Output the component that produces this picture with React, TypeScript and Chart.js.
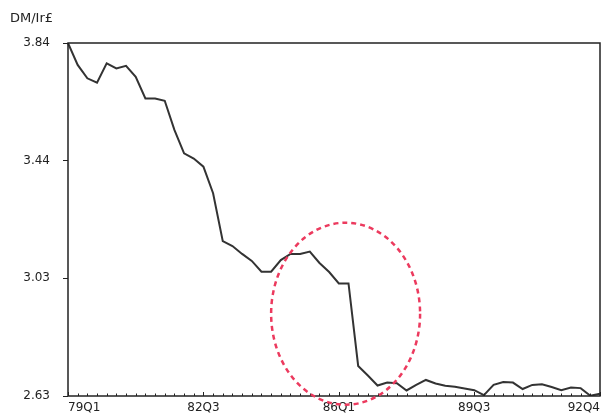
import React, { useEffect, useRef } from "react";
import { Chart, registerables } from "chart.js";

Chart.register(...registerables);

const QUARTERS = [
  "79Q1","79Q2","79Q3","79Q4","80Q1","80Q2","80Q3","80Q4",
  "81Q1","81Q2","81Q3","81Q4","82Q1","82Q2","82Q3","82Q4",
  "83Q1","83Q2","83Q3","83Q4","84Q1","84Q2","84Q3","84Q4",
  "85Q1","85Q2","85Q3","85Q4","86Q1","86Q2","86Q3","86Q4",
  "87Q1","87Q2","87Q3","87Q4","88Q1","88Q2","88Q3","88Q4",
  "89Q1","89Q2","89Q3","89Q4","90Q1","90Q2","90Q3","90Q4",
  "91Q1","91Q2","91Q3","91Q4","92Q1","92Q2","92Q3","92Q4",
];

const RATE = [
  3.84, 3.765, 3.719, 3.704, 3.77, 3.753, 3.762, 3.724,
  3.65, 3.65, 3.642, 3.542, 3.462, 3.444, 3.416, 3.325,
  3.161, 3.144, 3.117, 3.093, 3.056, 3.056, 3.096, 3.117,
  3.117, 3.125, 3.086, 3.055, 3.016, 3.016, 2.733, 2.7,
  2.666, 2.676, 2.674, 2.649, 2.668, 2.685, 2.673, 2.665,
  2.662, 2.656, 2.65, 2.633, 2.668, 2.678, 2.676, 2.654,
  2.668, 2.67, 2.661, 2.65, 2.659, 2.657, 2.631, 2.638,
];

const X_TICK_LABELS = ["79Q1", "82Q3", "86Q1", "89Q3", "92Q4"];
const Y_MIN = 2.63;
const Y_MAX = 3.84;
const Y_TICK_VALUES = [2.63, 3.0333, 3.4367, 3.84];
const Y_TICK_LABELS = ["2.63", "3.03", "3.44", "3.84"];
const Y_TITLE = "DM/Ir£";

// Highlight ellipse in data units (quarter index, rate)
const ELLIPSE_CENTER_X = 28.7;
const ELLIPSE_CENTER_Y = 2.912;
const ELLIPSE_RADIUS_X = 7.7;
const ELLIPSE_RADIUS_Y = 0.312;

const FONT = "DejaVu Sans";
const INK = "#222";

const overlayPlugin = {
  id: "overlay",
  afterDatasetsDraw(chart: any) {
    const { ctx, chartArea: a, scales } = chart;
    const xs = scales.x;
    const ys = scales.y;
    ctx.save();
    // frame
    ctx.strokeStyle = INK;
    ctx.lineWidth = 1.5;
    ctx.strokeRect(a.left, a.top, a.right - a.left, a.bottom - a.top);
    // minor ticks on bottom axis (inside)
    ctx.lineWidth = 1;
    for (let i = 0; i < QUARTERS.length; i++) {
      const px = Math.round(xs.getPixelForValue(i)) + 0.5;
      const major = X_TICK_LABELS.includes(QUARTERS[i]);
      ctx.beginPath();
      ctx.moveTo(px, a.bottom);
      ctx.lineTo(px, a.bottom - (major ? 4 : 2.5));
      ctx.stroke();
    }
    // ellipse annotation
    const cx = xs.getPixelForValue(ELLIPSE_CENTER_X);
    const cy = ys.getPixelForValue(ELLIPSE_CENTER_Y);
    const rx = Math.abs(xs.getPixelForValue(ELLIPSE_CENTER_X + ELLIPSE_RADIUS_X) - cx);
    const ry = Math.abs(ys.getPixelForValue(ELLIPSE_CENTER_Y + ELLIPSE_RADIUS_Y) - cy);
    ctx.strokeStyle = "#ec3a5e";
    ctx.lineWidth = 2.5;
    ctx.setLineDash([5, 4]);
    ctx.beginPath();
    ctx.ellipse(cx, cy, rx, ry, 0, 0, Math.PI * 2);
    ctx.stroke();
    ctx.setLineDash([]);
    // axis title
    ctx.fillStyle = INK;
    ctx.font = `13px "${FONT}"`;
    ctx.textAlign = "left";
    ctx.textBaseline = "middle";
    ctx.fillText(Y_TITLE, 10, 19);
    ctx.restore();
  },
};

export default function App() {
  const ref = useRef<HTMLCanvasElement | null>(null);

  useEffect(() => {
    if (!ref.current) return;
    const chart = new Chart(ref.current, {
      type: "line",
      data: {
        labels: QUARTERS,
        datasets: [
          {
            data: RATE,
            borderColor: "#333",
            borderWidth: 2,
            pointRadius: 0,
            tension: 0,
            fill: false,
          },
        ],
      },
      options: {
        responsive: false,
        animation: false,
        devicePixelRatio: 1,
        layout: { padding: { left: 0, right: 2, top: 43, bottom: 0 } },
        plugins: {
          legend: { display: false },
          tooltip: { enabled: false },
          title: { display: false },
        },
        scales: {
          x: {
            type: "category",
            offset: false,
            grid: { display: false, drawTicks: false },
            border: { display: false },
            afterFit: (s: any) => {
              s.height = 23;
            },
            ticks: {
              autoSkip: false,
              maxRotation: 0,
              minRotation: 0,
              align: "inner",
              padding: 5,
              color: INK,
              font: { family: FONT, size: 12 },
              callback: (_v: any, i: number) =>
                X_TICK_LABELS.includes(QUARTERS[i]) ? QUARTERS[i] : "",
            },
          },
          y: {
            type: "linear",
            min: Y_MIN,
            max: Y_MAX,
            afterBuildTicks: (s: any) => {
              s.ticks = Y_TICK_VALUES.map((v) => ({ value: v }));
            },
            afterFit: (s: any) => {
              s.width = 68;
            },
            grid: {
              display: true,
              drawOnChartArea: false,
              drawTicks: true,
              tickLength: 5,
              color: INK,
            },
            border: { display: false },
            ticks: {
              padding: 13,
              color: INK,
              font: { family: FONT, size: 12 },
              callback: (_v: any, i: number) => Y_TICK_LABELS[i],
            },
          },
        },
      },
      plugins: [overlayPlugin],
    });
    return () => chart.destroy();
  }, []);

  return (
    <div style={{ position: "absolute", left: 0, top: 0, width: 605, height: 419, background: "#fff" }}>
      <canvas ref={ref} width={605} height={419} />
    </div>
  );
}
